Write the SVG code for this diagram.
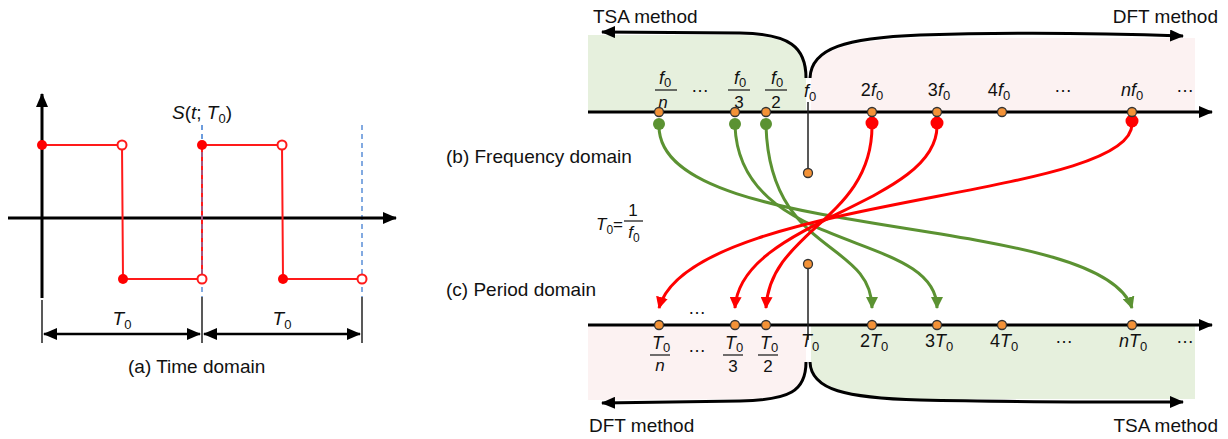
<svg xmlns="http://www.w3.org/2000/svg" width="1228" height="439" viewBox="0 0 1228 439">
  <style>
    text { font-family: "Liberation Sans", Arial, sans-serif; fill: #111; }
    .lbl { font-size: 19px; }
    .sym { font-size: 18px; }
    .den { font-size: 17px; }
    .it { font-style: italic; }
    .sub { font-size: 13px; }
    .axis { stroke: #000; stroke-width: 3; fill: none; }
    .sig { stroke: #ff1a1a; stroke-width: 2; fill: none; }
    .dash { stroke: #5a8fd8; stroke-width: 1.5; stroke-dasharray: 5 4; fill: none; }
    .tick { stroke: #222; stroke-width: 1.5; }
    .bar { stroke: #222; stroke-width: 1.3; }
    .red { stroke: #ff0000; stroke-width: 3; fill: none; }
    .grn { stroke: #5b9232; stroke-width: 3; fill: none; }
    .od { fill: #f39237; stroke: #333; stroke-width: 1.3; }
  </style>
  <defs>
    <marker id="ahK" viewBox="0 0 14 12" refX="13" refY="6" markerWidth="14" markerHeight="12" markerUnits="userSpaceOnUse" orient="auto-start-reverse">
      <path d="M0,0 L14,6 L0,12 z" fill="#000"/>
    </marker>
    <marker id="ahR" viewBox="0 0 12 12" refX="11" refY="6" markerWidth="12" markerHeight="12" markerUnits="userSpaceOnUse" orient="auto">
      <path d="M0,0 L12,6 L0,12 z" fill="#ff0000"/>
    </marker>
    <marker id="ahG" viewBox="0 0 12 12" refX="11" refY="6" markerWidth="12" markerHeight="12" markerUnits="userSpaceOnUse" orient="auto">
      <path d="M0,0 L12,6 L0,12 z" fill="#5b9232"/>
    </marker>
  </defs>
  <rect width="1228" height="439" fill="#fff"/>

  <!-- (a) time-domain square wave -->
  <g id="time-domain">
    <line class="dash" x1="202" y1="125" x2="202" y2="297"/>
    <line class="dash" x1="362" y1="125" x2="362" y2="297"/>
    <line class="axis" x1="42" y1="298" x2="42" y2="94" marker-end="url(#ahK)"/>
    <line class="axis" x1="8" y1="218" x2="396" y2="218" marker-end="url(#ahK)"/>
    <polyline class="sig" points="42,145 122,145 123,279 202,279"/>
    <polyline class="sig" points="202,279 202,145 282,145 283,279 362,279"/>
    <line class="dash" x1="202" y1="125" x2="202" y2="279" stroke-opacity="0.7"/>
    <circle cx="42" cy="145" r="5" fill="#ff0000"/>
    <circle cx="123" cy="279" r="5" fill="#ff0000"/>
    <circle cx="202" cy="145" r="5" fill="#ff0000"/>
    <circle cx="283" cy="279" r="5" fill="#ff0000"/>
    <circle cx="122" cy="145" r="4.5" fill="#fff" stroke="#ff1a1a" stroke-width="2"/>
    <circle cx="202" cy="279" r="4.5" fill="#fff" stroke="#ff1a1a" stroke-width="2"/>
    <circle cx="282" cy="145" r="4.5" fill="#fff" stroke="#ff1a1a" stroke-width="2"/>
    <circle cx="362" cy="279" r="4.5" fill="#fff" stroke="#ff1a1a" stroke-width="2"/>
    <text class="lbl" x="172" y="119"><tspan class="it">S</tspan>(<tspan class="it">t</tspan>; <tspan class="it">T</tspan><tspan class="sub" dy="4">0</tspan><tspan dy="-4">)</tspan></text>
    <line class="tick" x1="42" y1="300" x2="42" y2="343"/>
    <line class="tick" x1="202" y1="297" x2="202" y2="343"/>
    <line class="tick" x1="362" y1="297" x2="362" y2="343"/>
    <line stroke="#000" stroke-width="2.5" x1="44" y1="334" x2="200" y2="334" marker-start="url(#ahK)" marker-end="url(#ahK)"/>
    <line stroke="#000" stroke-width="2.5" x1="204" y1="334" x2="360" y2="334" marker-start="url(#ahK)" marker-end="url(#ahK)"/>
    <text class="lbl" x="122" y="325" text-anchor="middle"><tspan class="it">T</tspan><tspan class="sub" dy="4">0</tspan></text>
    <text class="lbl" x="282" y="325" text-anchor="middle"><tspan class="it">T</tspan><tspan class="sub" dy="4">0</tspan></text>
    <text class="lbl" x="128" y="373">(a) Time domain</text>
  </g>

  <!-- shaded method regions -->
  <g id="regions">
    <path d="M588,35 L740,35 C792,36 806,50 806,78 L806,112 L588,112 Z" fill="#e6f0dd"/>
    <path d="M811,78 C812,50 848,40 920,38 L1195,38 L1195,112 L811,112 Z" fill="#fcf2f2"/>
    <path d="M588,325 L806,325 L806,362 C806,390 790,398 740,399 L588,400 Z" fill="#fcf2f2"/>
    <path d="M811,325 L1195,325 L1195,399 L920,399 C848,397 812,388 811,362 Z" fill="#e6f0dd"/>
  </g>

  <!-- (b) frequency axis -->
  <g id="frequency-axis">
    <line class="axis" x1="588" y1="112" x2="1212" y2="112" marker-end="url(#ahK)"/>
    <line class="tick" x1="808" y1="102" x2="808" y2="173"/>
    <text class="sym" x="665" y="84" text-anchor="middle"><tspan class="it">f</tspan><tspan class="sub" dy="3">0</tspan></text>
    <line class="bar" x1="655" y1="90" x2="677" y2="90"/>
    <text class="den it" x="663" y="108" text-anchor="middle">n</text>
    <text class="sym" x="700" y="92" text-anchor="middle">…</text>
    <text class="sym" x="740" y="84" text-anchor="middle"><tspan class="it">f</tspan><tspan class="sub" dy="3">0</tspan></text>
    <line class="bar" x1="728" y1="90" x2="750" y2="90"/>
    <text class="den" x="739" y="108" text-anchor="middle">3</text>
    <text class="sym" x="777" y="84" text-anchor="middle"><tspan class="it">f</tspan><tspan class="sub" dy="3">0</tspan></text>
    <line class="bar" x1="765" y1="90" x2="787" y2="90"/>
    <text class="den" x="776" y="108" text-anchor="middle">2</text>
    <text class="sym" x="810" y="97" text-anchor="middle"><tspan class="it">f</tspan><tspan class="sub" dy="4">0</tspan></text>
    <text class="sym" x="872" y="96" text-anchor="middle">2<tspan class="it">f</tspan><tspan class="sub" dy="4">0</tspan></text>
    <text class="sym" x="939" y="96" text-anchor="middle">3<tspan class="it">f</tspan><tspan class="sub" dy="4">0</tspan></text>
    <text class="sym" x="999" y="96" text-anchor="middle">4<tspan class="it">f</tspan><tspan class="sub" dy="4">0</tspan></text>
    <text class="sym" x="1063" y="92" text-anchor="middle">…</text>
    <text class="sym" x="1132" y="96" text-anchor="middle"><tspan class="it">nf</tspan><tspan class="sub" dy="4">0</tspan></text>
    <text class="sym" x="1185" y="92" text-anchor="middle">…</text>
    <text class="lbl" x="446" y="163">(b) Frequency domain</text>
  </g>

  <!-- relation between the domains -->
  <g id="relation">
    <text font-size="17" x="596" y="230"><tspan class="it">T</tspan><tspan font-size="12" dy="4">0</tspan><tspan dy="-4">=</tspan></text>
    <text font-size="17" x="633" y="216" text-anchor="middle">1</text>
    <line class="bar" x1="624" y1="221" x2="643" y2="221"/>
    <text font-size="17" x="634" y="238" text-anchor="middle"><tspan class="it">f</tspan><tspan font-size="12" dy="4">0</tspan></text>
  </g>

  <!-- (c) period axis -->
  <g id="period-axis">
    <line class="axis" x1="588" y1="325" x2="1212" y2="325" marker-end="url(#ahK)"/>
    <line class="tick" x1="808" y1="264" x2="808" y2="340"/>
    <text class="sym" x="661" y="349" text-anchor="middle"><tspan class="it">T</tspan><tspan class="sub" dy="3">0</tspan></text>
    <line class="bar" x1="650" y1="355" x2="670" y2="355"/>
    <text class="den it" x="660" y="371" text-anchor="middle">n</text>
    <text class="sym" x="697" y="314" text-anchor="middle">…</text>
    <text class="sym" x="697" y="352" text-anchor="middle">…</text>
    <text class="sym" x="734" y="349" text-anchor="middle"><tspan class="it">T</tspan><tspan class="sub" dy="3">0</tspan></text>
    <line class="bar" x1="723" y1="355" x2="743" y2="355"/>
    <text class="den" x="733" y="372" text-anchor="middle">3</text>
    <text class="sym" x="769" y="349" text-anchor="middle"><tspan class="it">T</tspan><tspan class="sub" dy="3">0</tspan></text>
    <line class="bar" x1="758" y1="355" x2="778" y2="355"/>
    <text class="den" x="768" y="372" text-anchor="middle">2</text>
    <text class="sym" x="810" y="347" text-anchor="middle"><tspan class="it">T</tspan><tspan class="sub" dy="4">0</tspan></text>
    <text class="sym" x="874" y="347" text-anchor="middle">2<tspan class="it">T</tspan><tspan class="sub" dy="4">0</tspan></text>
    <text class="sym" x="939" y="347" text-anchor="middle">3<tspan class="it">T</tspan><tspan class="sub" dy="4">0</tspan></text>
    <text class="sym" x="1004" y="347" text-anchor="middle">4<tspan class="it">T</tspan><tspan class="sub" dy="4">0</tspan></text>
    <text class="sym" x="1064" y="343" text-anchor="middle">…</text>
    <text class="sym" x="1133" y="347" text-anchor="middle"><tspan class="it">nT</tspan><tspan class="sub" dy="4">0</tspan></text>
    <text class="sym" x="1185" y="343" text-anchor="middle">…</text>
    <text class="lbl" x="446" y="296">(c) Period domain</text>
  </g>

  <!-- method direction arrows -->
  <g id="methods">
    <path class="axis" d="M806,78 C806,47 790,34 740,33 L602,32" marker-end="url(#ahK)"/>
    <path class="axis" d="M810,78 C811,48 846,38 920,35 C1010,32 1100,33 1183,36" marker-end="url(#ahK)"/>
    <path class="axis" d="M806,362 C806,391 790,400 740,401 L602,403" marker-end="url(#ahK)"/>
    <path class="axis" d="M810,362 C811,390 846,398 920,400 C1010,402 1100,402 1183,402" marker-end="url(#ahK)"/>
    <text class="lbl" x="593" y="23">TSA method</text>
    <text class="lbl" x="1218" y="23" text-anchor="end">DFT method</text>
    <text class="lbl" x="589" y="432">DFT method</text>
    <text class="lbl" x="1218" y="432" text-anchor="end">TSA method</text>
  </g>

  <!-- mapping curves between the domains -->
  <g id="connectors">
    <path class="grn" d="M659,126 C659,245 1100,210 1132,308" marker-end="url(#ahG)"/>
    <path class="grn" d="M735,126 C740,255 937,230 937,308" marker-end="url(#ahG)"/>
    <path class="grn" d="M766,126 C770,255 872,240 872,308" marker-end="url(#ahG)"/>
    <path class="red" d="M872,126 C872,220 770,230 766,308" marker-end="url(#ahR)"/>
    <path class="red" d="M937,126 C937,205 740,220 735,308" marker-end="url(#ahR)"/>
    <path class="red" d="M1132,124 C1132,200 690,195 659,308" marker-end="url(#ahR)"/>
  </g>

  <!-- axis points -->
  <g id="points">
    <circle cx="659" cy="124" r="6" fill="#5b9232"/>
    <circle cx="735" cy="124" r="6" fill="#5b9232"/>
    <circle cx="766" cy="124" r="6" fill="#5b9232"/>
    <circle cx="872" cy="123" r="6.5" fill="#ff0000"/>
    <circle cx="937" cy="123" r="6.5" fill="#ff0000"/>
    <circle cx="1132" cy="121" r="6.5" fill="#ff0000"/>
    <circle class="od" cx="659" cy="112" r="4.5"/>
    <circle class="od" cx="735" cy="112" r="4.5"/>
    <circle class="od" cx="766" cy="112" r="4.5"/>
    <circle class="od" cx="872" cy="112" r="4.5"/>
    <circle class="od" cx="937" cy="112" r="4.5"/>
    <circle class="od" cx="1002" cy="112" r="4.5"/>
    <circle class="od" cx="1132" cy="112" r="4.5"/>
    <circle class="od" cx="808" cy="173" r="4.5"/>
    <circle class="od" cx="659" cy="325" r="4.5"/>
    <circle class="od" cx="735" cy="325" r="4.5"/>
    <circle class="od" cx="766" cy="325" r="4.5"/>
    <circle class="od" cx="872" cy="325" r="4.5"/>
    <circle class="od" cx="937" cy="325" r="4.5"/>
    <circle class="od" cx="1002" cy="325" r="4.5"/>
    <circle class="od" cx="1132" cy="325" r="4.5"/>
    <circle class="od" cx="808" cy="264" r="4.5"/>
  </g>
</svg>
